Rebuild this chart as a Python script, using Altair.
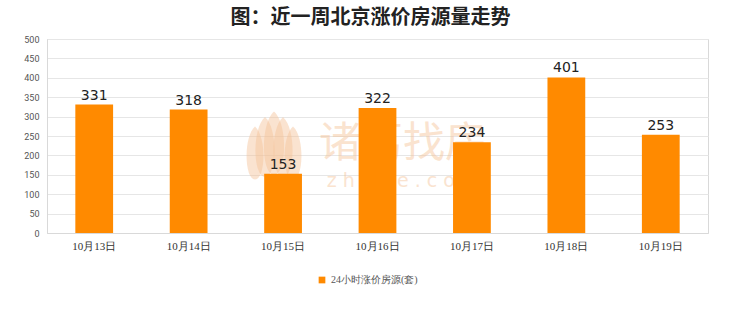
import altair as alt
import pandas as pd

# Daily count of listings with raised prices in Beijing over the past week
dates = ["10月13日", "10月14日", "10月15日", "10月16日", "10月17日", "10月18日", "10月19日"]
counts = [331, 318, 153, 322, 234, 401, 253]
series_name = "24小时涨价房源(套)"

df = pd.DataFrame({"date": dates, "count": counts, "series": [series_name] * len(dates)})

ORANGE = "#ff8a00"
WM = "#f5c296"

x_enc = alt.X(
    "date:N",
    sort=dates,
    title=None,
    scale=alt.Scale(paddingInner=0.6, paddingOuter=0.3),
    axis=alt.Axis(
        labelAngle=0,
        labelFont="Liberation Serif",
        labelFontSize=11,
        labelColor="#333333",
        labelPadding=7,
        domainColor="#d9d9d9",
        ticks=False,
        grid=False,
    ),
)
y_enc = alt.Y(
    "count:Q",
    title=None,
    scale=alt.Scale(domain=[0, 500], nice=False),
    axis=alt.Axis(
        values=list(range(0, 501, 50)),
        tickCount=11,
        labelOverlap=False,
        labelFont="Roboto",
        labelFontSize=9,
        labelColor="#555555",
        labelPadding=8,
        domainColor="#d9d9d9",
        ticks=False,
        gridColor="#e6e6e6",
    ),
)

bars = alt.Chart(df).mark_bar(color=ORANGE).encode(
    x=x_enc,
    y=y_enc,
    color=alt.Color(
        "series:N",
        scale=alt.Scale(range=[ORANGE]),
        legend=alt.Legend(
            title=None,
            orient="none",
            legendX=270,
            legendY=236,
            symbolType="square",
            symbolSize=45,
            labelFont="Liberation Serif",
            labelFontSize=10,
            labelColor="#555555",
        ),
    ),
)

labels = alt.Chart(df).mark_text(
    dy=-9, fontSize=14, font="DejaVu Sans", color="#222222"
).encode(x=x_enc, y=y_enc, text="count:Q")

# faint site watermark (lotus logo + name) behind the bars
petal = "M0,-1 C0.45,-0.6 0.4,1 0,1 C-0.4,1 -0.45,-0.6 0,-1 Z"
logo = pd.DataFrame({
    "px": [208, 218, 227, 236, 246],
    "py": [114, 108, 104, 108, 114],
    "sz": [2800, 3600, 4000, 3600, 2800],
})
watermark_logo = alt.Chart(logo).mark_point(
    shape=petal, filled=True, color=WM, opacity=0.45, strokeWidth=0
).encode(
    x=alt.X("px:Q", scale=None, axis=None),
    y=alt.Y("py:Q", scale=None, axis=None),
    size=alt.Size("sz:Q", scale=None, legend=None),
)

watermark = alt.Chart(pd.DataFrame({"t": ["诸葛找房"]})).mark_text(
    fontSize=42, font="Noto Sans CJK SC", color=WM, opacity=0.45
).encode(x=alt.value(356), y=alt.value(105), text="t:N")
watermark2 = alt.Chart(pd.DataFrame({"t": ["z h u g e . c o m"]})).mark_text(
    fontSize=19, font="DejaVu Sans", color=WM, opacity=0.45
).encode(x=alt.value(356), y=alt.value(142), text="t:N")

chart = (
    alt.layer(watermark_logo, watermark, watermark2, bars, labels)
    .resolve_scale(size="independent")
    .properties(
        width=661,
        height=194,
        title=alt.TitleParams(
            "图：近一周北京涨价房源量走势",
            font="Noto Sans CJK SC",
            fontSize=20,
            fontWeight="bold",
            color="#222222",
            anchor="middle",
            dx=-7,
            offset=7,
        ),
        padding={"left": 47, "top": 39, "right": 32, "bottom": 79},
        autosize=alt.AutoSizeParams(type="none"),
        background="white",
    )
    .configure_view(stroke="#d9d9d9")
)

chart.save("out.html", embed_options={"renderer": "svg", "actions": False})
